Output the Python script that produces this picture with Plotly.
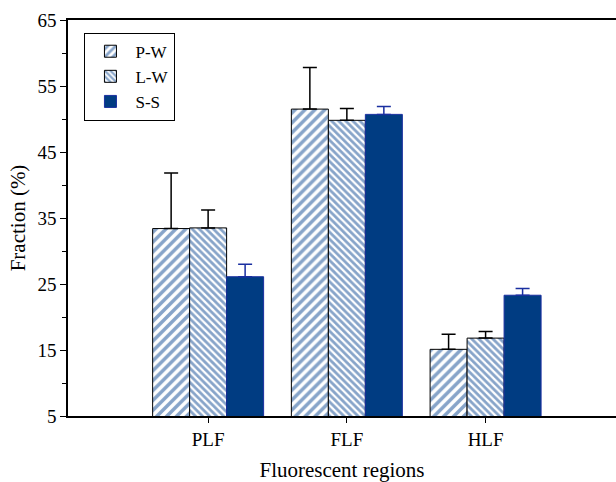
import plotly.graph_objects as go

categories = ["PLF", "FLF", "HLF"]
series_names = ["P-W", "L-W", "S-S"]
pw_values = [33.4, 51.5, 15.1]
pw_errors = [8.4, 6.3, 2.3]
lw_values = [33.5, 49.8, 16.8]
lw_errors = [2.7, 1.8, 1.0]
ss_values = [26.1, 50.7, 23.3]
ss_errors = [1.9, 1.2, 1.0]
y_ticks = [5, 15, 25, 35, 45, 55, 65]

BLUE = "#003c82"
FONT = "Liberation Serif, Times New Roman, serif"

fig = go.Figure()

fig.add_trace(go.Bar(
    name=series_names[0], x=categories, y=pw_values,
    marker=dict(color="white", line=dict(color="black", width=1),
                pattern=dict(shape="/", fgcolor="#0f4a94", bgcolor="white", size=7, solidity=0.5)),
    error_y=dict(type="data", array=pw_errors, arrayminus=[0, 0, 0], symmetric=False,
                 color="black", thickness=1.5, width=7),
))
fig.add_trace(go.Bar(
    name=series_names[1], x=categories, y=lw_values,
    marker=dict(color="white", line=dict(color="black", width=1),
                pattern=dict(shape="\\", fgcolor="#0f4a94", bgcolor="white", size=5, solidity=0.55)),
    error_y=dict(type="data", array=lw_errors, arrayminus=[0, 0, 0], symmetric=False,
                 color="black", thickness=1.5, width=7),
))
fig.add_trace(go.Bar(
    name=series_names[2], x=categories, y=ss_values,
    marker=dict(color=BLUE, line=dict(color="#1a2fa0", width=1)),
    error_y=dict(type="data", array=ss_errors, arrayminus=[0, 0, 0], symmetric=False,
                 color="#1a2fa0", thickness=1.5, width=7),
))

fig.update_layout(
    width=616, height=482,
    margin=dict(l=68, r=0, t=20, b=66),
    paper_bgcolor="white", plot_bgcolor="white",
    barmode="group", bargap=0.2, bargroupgap=0,
    font=dict(family=FONT, size=18, color="black"),
    showlegend=True,
    legend=dict(x=0.03, y=0.968, xanchor="left", yanchor="top",
                bordercolor="black", borderwidth=1, bgcolor="white",
                font=dict(family=FONT, size=17), itemwidth=40,
                tracegroupgap=0),
    xaxis=dict(
        range=[-1.01, 2.94], showgrid=False, zeroline=False,
        showline=True, linecolor="black", linewidth=1.5, mirror=True,
        ticks="outside", ticklen=5, tickcolor="black",
        tickfont=dict(family=FONT, size=19),
        title=dict(text="Fluorescent regions", font=dict(family=FONT, size=21), standoff=14),
    ),
    yaxis=dict(
        range=[5, 65], showgrid=False, zeroline=False,
        showline=True, linecolor="black", linewidth=1.5, mirror=False,
        tickvals=y_ticks, ticks="outside", ticklen=6, tickcolor="black",
        minor=dict(tickvals=[10, 20, 30, 40, 50, 60], ticks="outside", ticklen=4, tickcolor="black"),
        tickfont=dict(family=FONT, size=19),
        title=dict(text="Fraction (%)", font=dict(family=FONT, size=21), standoff=6),
    ),
)

fig.write_html("out.html")
